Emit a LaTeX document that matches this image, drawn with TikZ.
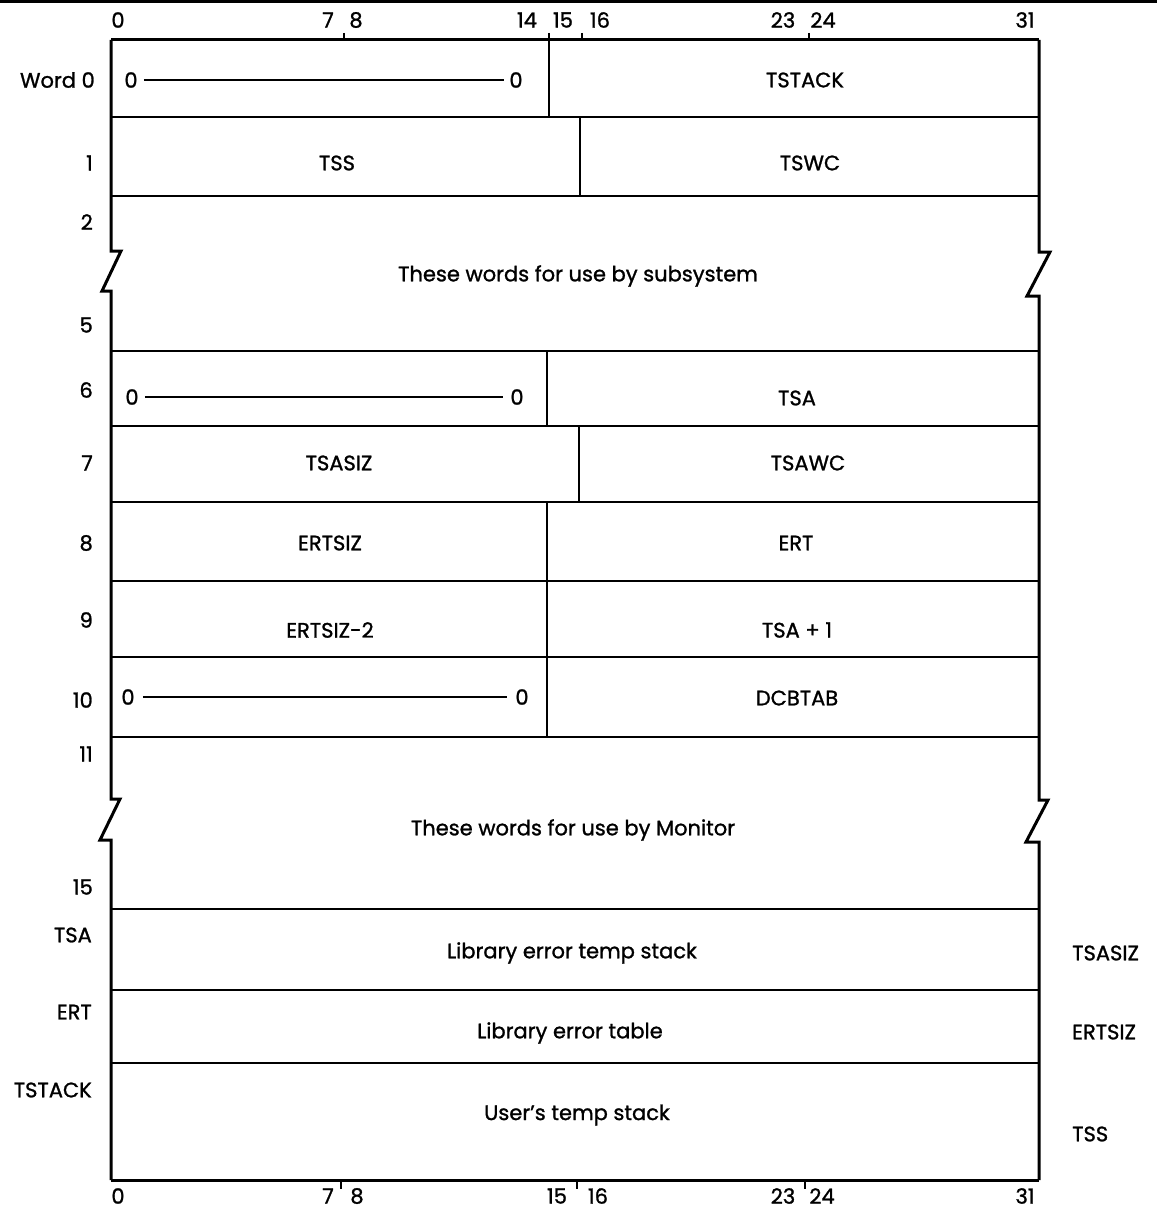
\documentclass[tikz,border=0pt]{standalone}
\usepackage{fontspec}
\setmainfont{Poppins}[FakeBold=1.2]
\begin{document}
\begin{tikzpicture}[x=1pt,y=-1pt,
  lbl/.style={inner sep=0pt,font=\fontsize{21}{24}\selectfont},
  rowlbl/.style={lbl,anchor=east},
  outer/.style={line width=3pt,line join=miter},
  inner/.style={line width=2pt},
  div/.style={line width=2.4pt},
  tick/.style={line width=2pt},
  zline/.style={line width=2pt}]
\useasboundingbox (0,0) rectangle (1157,1209);
% page edge line
\draw[line width=2.5pt] (0,1.5) -- (1157,1.5);
% outer borders with breaks
\draw[outer] (111,40) -- (111,251) -- (121,251) -- (102,291) -- (111,291) -- (111,799) -- (120,799) -- (100,840) -- (111,840) -- (111,1180);
\draw[outer] (1039,40) -- (1039,252) -- (1050,252) -- (1027,296) -- (1039,296) -- (1039,800) -- (1048,800) -- (1026,842) -- (1039,842) -- (1039,1180);
\draw[outer] (111,40) -- (1039,40);
\draw[outer] (111,1180) -- (1039,1180);
% row boundaries
\foreach \y in {117,196,351,426,502,581,657,737,909,990,1063}
  \draw[inner] (111,\y) -- (1039,\y);
% field dividers
\draw[div] (549,33) -- (549,117);
\draw[div] (580,117) -- (580,196);
\draw[div] (547,351) -- (547,426);
\draw[div] (579,426) -- (579,502);
\draw[div] (547,502) -- (547,737);
% top ticks
\draw[tick] (344,33) -- (344,40);
\draw[tick] (582,33) -- (582,40);
\draw[tick] (809,33) -- (809,40);
% bottom ticks
\draw[tick] (341,1180) -- (341,1189);
\draw[tick] (577,1180) -- (577,1189);
\draw[tick] (805,1180) -- (805,1189);
% top bit numbers
\foreach \x/\t in {118/0,328/7,356/8,527/14,563/15,600/16,783/23,823/24,1025/31}
  \node[lbl] (t\t) at (\x,20) {\t};
% bottom bit numbers
\foreach \x/\t in {118/0,328/7,357/8,557/15,598/16,783/23,822/24,1025/31}
  \node[lbl] (b\t) at (\x,1196) {\t};
% row labels
\node[rowlbl] (w0) at (95,80) {Word 0};
\node[rowlbl] (w1) at (93,163) {1};
\node[rowlbl] (w2) at (93,222) {2};
\node[rowlbl] (w5) at (93,325) {5};
\node[rowlbl] (w6) at (93,390) {6};
\node[rowlbl] (w7) at (93,463) {7};
\node[rowlbl] (w8) at (93,543) {8};
\node[rowlbl] (w9) at (93,620) {9};
\node[rowlbl] (w10) at (93,700) {10};
\node[rowlbl] (w11) at (93,754) {11};
\node[rowlbl] (w15) at (93,887) {15};
\node[rowlbl] (wtsa) at (92,935) {TSA};
\node[rowlbl] (wert) at (92,1012) {ERT};
\node[rowlbl] (wtstack) at (92,1090) {TSTACK};
% right labels
\node[lbl,anchor=west] (rtsasiz) at (1072,953) {TSASIZ};
\node[lbl,anchor=west] (rertsiz) at (1072,1032) {ERTSIZ};
\node[lbl,anchor=west] (rtss) at (1072,1134) {TSS};
% field contents
\node[lbl] (z0a) at (131,80) {0};
\node[lbl] (z0b) at (516,80) {0};
\draw[zline] (z0a.east) ++(6,0) -- ([xshift=-5pt]z0b.west);
\node[lbl] (tstack) at (805,80) {TSTACK};
\node[lbl] (tss) at (337,163) {TSS};
\node[lbl] (tswc) at (810,163) {TSWC};
\node[lbl] (sub) at (578,276) {These words for use by subsystem};
\node[lbl] (z6a) at (132,397) {0};
\node[lbl] (z6b) at (517,397) {0};
\draw[zline] (z6a.east) ++(6,0) -- ([xshift=-7pt]z6b.west);
\node[lbl] (tsa) at (797,398) {TSA};
\node[lbl] (tsasiz) at (339,463) {TSASIZ};
\node[lbl] (tsawc) at (808,463) {TSAWC};
\node[lbl] (ertsiz) at (330,543) {ERTSIZ};
\node[lbl] (ert) at (796,543) {ERT};
\node[lbl] (ertsiz2) at (330,630) {ERTSIZ-2};
\node[lbl] (tsa1) at (797,630) {TSA + 1};
\node[lbl] (z10a) at (128,697) {0};
\node[lbl] (z10b) at (522,697) {0};
\draw[zline] (z10a.east) ++(8,0) -- ([xshift=-8pt]z10b.west);
\node[lbl] (dcbtab) at (797,698) {DCBTAB};
\node[lbl] (mon) at (573,830) {These words for use by Monitor};
\node[lbl] (lets) at (572,953) {Library error temp stack};
\node[lbl] (let) at (570,1033) {Library error table};
\node[lbl] (uts) at (577,1115) {User{\char"27}s temp stack};
\end{tikzpicture}
\end{document}
